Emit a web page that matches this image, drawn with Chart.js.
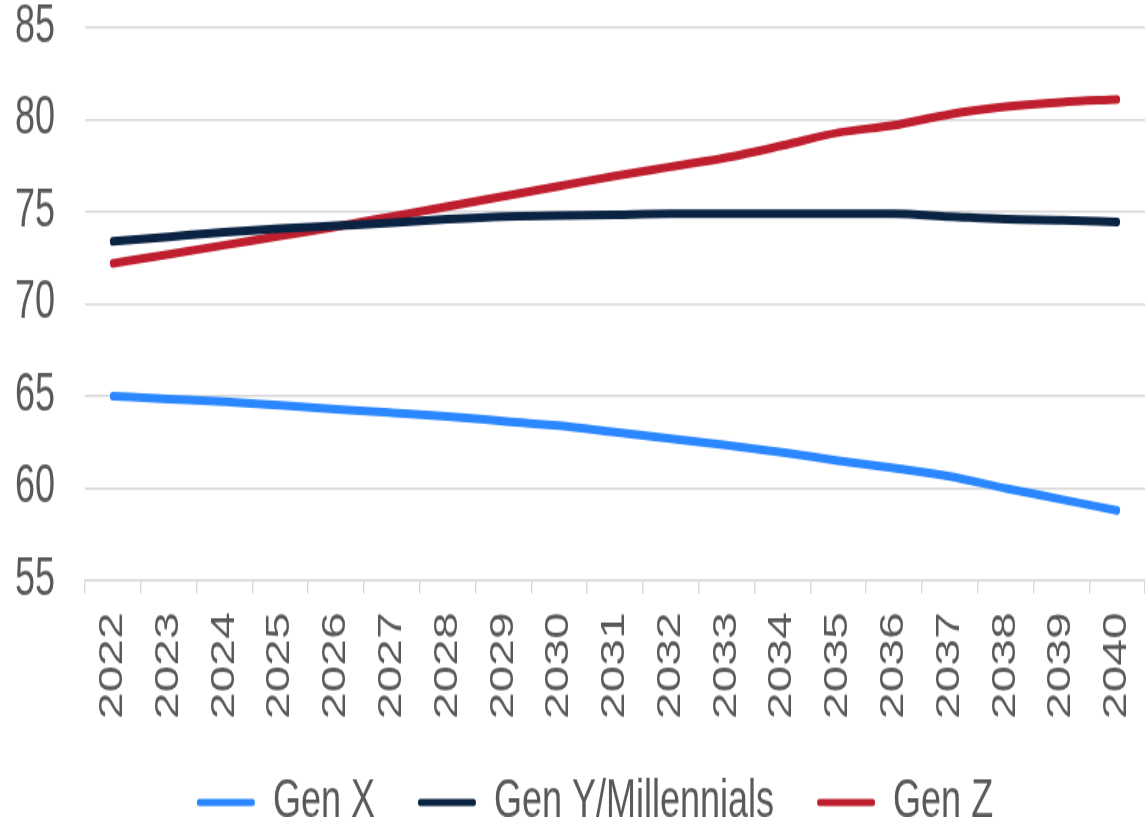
<!DOCTYPE html>
<html>
<head>
<meta charset="utf-8">
<script src="https://cdn.jsdelivr.net/npm/chart.js@4"></script>
<style>
  body { margin: 0; background: #fff; overflow: hidden; }
</style>
</head>
<body>
<!-- drawn at 1145x563 and shown stretched to 817 tall, like the reference -->
<canvas id="myChart" width="1145" height="563" style="display:block;width:1145px;height:817px"></canvas>
<script>
const years = ['2022','2023','2024','2025','2026','2027','2028','2029','2030','2031',
               '2032','2033','2034','2035','2036','2037','2038','2039','2040'];
const genX = [65.0, 64.85, 64.7, 64.5, 64.3, 64.1, 63.9, 63.65, 63.4, 63.05,
              62.7, 62.35, 61.95, 61.5, 61.1, 60.65, 60.0, 59.4, 58.8];
const genY = [73.4, 73.65, 73.9, 74.1, 74.25, 74.4, 74.6, 74.75, 74.8, 74.85,
              74.9, 74.9, 74.9, 74.9, 74.9, 74.75, 74.6, 74.55, 74.45];
const genZ = [72.2, 72.7, 73.2, 73.7, 74.2, 74.75, 75.3, 75.85, 76.4, 76.95,
              77.45, 77.95, 78.6, 79.3, 79.7, 80.3, 80.7, 80.95, 81.1];
const seriesNames = ['Gen X', 'Gen Y/Millennials', 'Gen Z'];
const seriesColors = ['#2a87ff', '#0a2342', '#be1e2d'];

const textColor = '#595959';
const gridColor = '#d9d9d9';
const fontFamily = "'Liberation Sans', Arial, sans-serif";

function series(i, values) {
  return {
    label: seriesNames[i],
    data: values,
    borderColor: seriesColors[i],
    backgroundColor: seriesColors[i],
    borderWidth: 6,
    borderCapStyle: 'round',
    borderJoinStyle: 'round',
    pointRadius: 0,
    cubicInterpolationMode: 'monotone'
  };
}

const data = {
  labels: years,
  datasets: [series(0, genX), series(1, genY), series(2, genZ)]
};

// nudge the centred legend a bit to the right
const legendShift = {
  id: 'legendShift',
  afterLayout(chart) {
    chart.legend.left += 15;
    chart.legend.right += 15;
  }
};

const config = {
  type: 'line',
  data,
  plugins: [legendShift],
  options: {
    responsive: false,
    animation: false,
    devicePixelRatio: 1,
    layout: { padding: { left: 15, right: 0, top: 19, bottom: -18 } },
    plugins: {
      tooltip: { enabled: false },
      legend: {
        position: 'bottom',
        labels: {
          color: textColor,
          font: { family: fontFamily, size: 36 },
          boxWidth: 58,
          boxHeight: 5,
          padding: 13,
          useBorderRadius: true,
          borderRadius: 2.5,
          generateLabels: function (chart) {
            const items = Chart.defaults.plugins.legend.labels.generateLabels(chart);
            items.forEach(function (it, i) {
              it.fillStyle = it.strokeStyle;
              it.lineWidth = 0;
              if (i < items.length - 1) it.text = it.text + '   ';
            });
            return items;
          }
        }
      }
    },
    scales: {
      x: {
        offset: true,
        grid: {
          display: true,
          drawOnChartArea: false,
          drawTicks: true,
          tickLength: 9,
          offset: true,
          color: gridColor,
          lineWidth: 1.4
        },
        border: { display: true, color: gridColor, width: 1.4 },
        ticks: {
          autoSkip: false,
          minRotation: 90,
          maxRotation: 90,
          padding: 13,
          color: textColor,
          font: { family: fontFamily, size: 33 }
        },
        afterFit: function (axis) {
          axis.height = 122;
          axis.paddingLeft = 0;
          axis.paddingRight = 0;
        }
      },
      y: {
        min: 55,
        max: 85,
        grid: { color: gridColor, lineWidth: 1.4, drawTicks: false },
        border: { display: false },
        ticks: {
          stepSize: 5,
          padding: 30,
          color: textColor,
          font: { family: fontFamily, size: 36, lineHeight: 1 }
        },
        afterFit: function (axis) {
          axis.width = 70;
          axis.paddingTop = 0;
          axis.paddingBottom = 0;
        }
      }
    }
  }
};

const myChart = new Chart(document.getElementById('myChart'), config);
</script>
</body>
</html>
